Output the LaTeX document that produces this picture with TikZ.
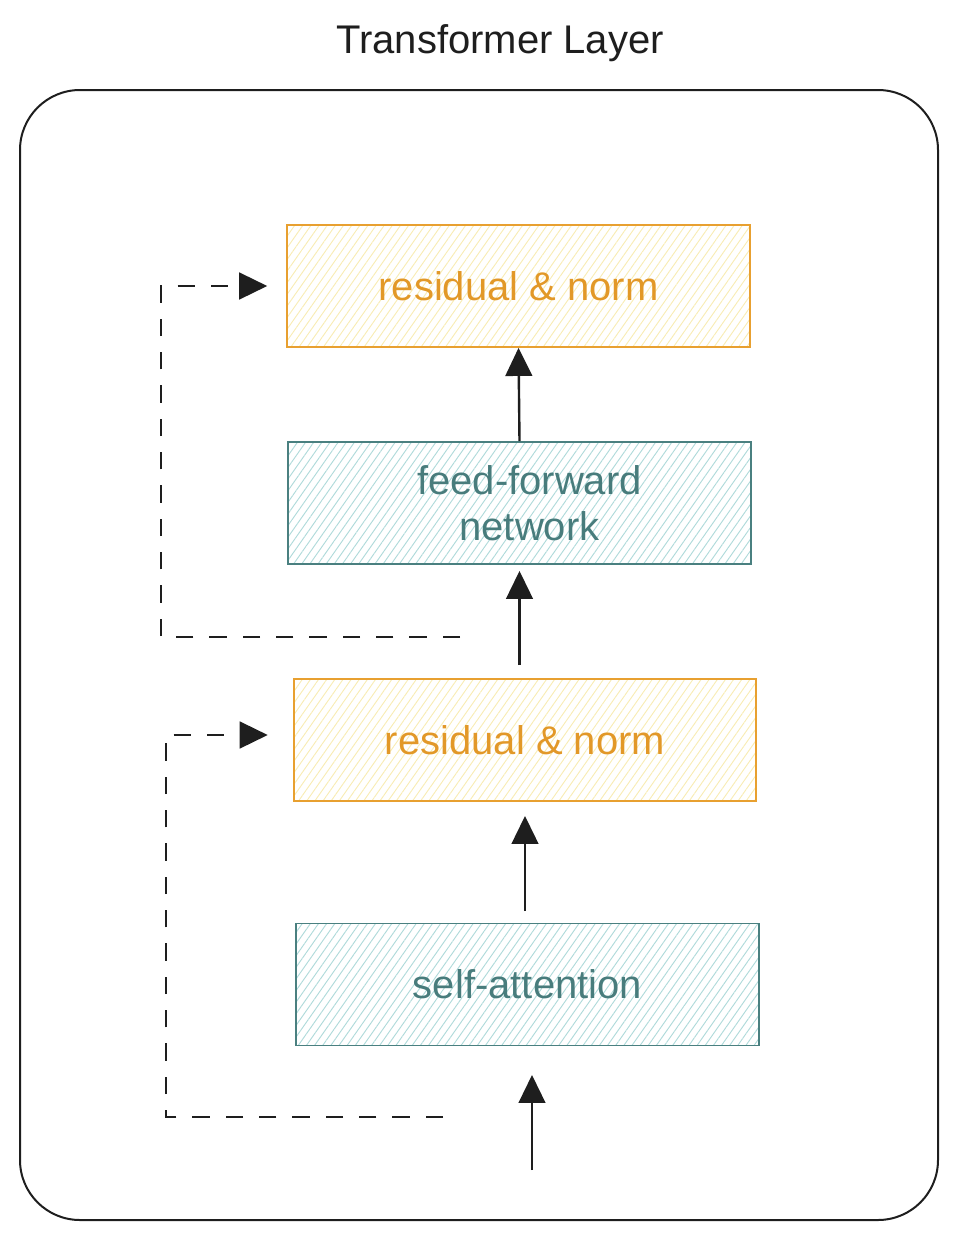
\documentclass[tikz,border=0pt]{standalone}
\usepackage[RGB]{xcolor}
\usepackage{fontspec}
\setmainfont{Liberation Sans}
\usetikzlibrary{arrows.meta,patterns.meta}
\definecolor{ink}{RGB}{30,30,30}
\definecolor{normline}{RGB}{232,160,48}
\definecolor{normtext}{RGB}{226,152,40}
\definecolor{normhatch}{RGB}{248,236,180}
\definecolor{netline}{RGB}{74,128,128}
\definecolor{nettext}{RGB}{72,124,124}
\definecolor{nethatch}{RGB}{175,218,218}
\newcommand{\boxfont}{\fontsize{30}{34.5}\selectfont}
\tikzset{
  block/.style={draw, line width=1.4pt, minimum width=347pt, minimum height=91.5pt,
    align=center, font=\boxfont, inner sep=0pt,
    pattern={Lines[angle=55,distance=5pt,line width=0.7pt]}},
  normblock/.style={block, draw=normline, text=normtext, pattern color=normhatch},
  netblock/.style={block, draw=netline, text=nettext, pattern color=nethatch},
  flow/.style={draw=ink, line width=1.8pt, -{Triangle[length=21pt,width=20pt]}},
  skip/.style={draw=ink, line width=1.9pt, dash pattern=on 13pt off 12pt,
    -{Triangle[length=21pt,width=20pt]}}
}
\begin{document}
\begin{tikzpicture}[x=0.75pt,y=-0.75pt]
\useasboundingbox (0,0) rectangle (957,1239);
\node[text=ink, font=\boxfont] (title) at (500,43) {Transformer Layer};
\draw[ink, line width=1.5pt, rounded corners=45pt] (20,90) rectangle (938,1220);
% blocks, bottom to top
\node[netblock] (attn) at (527.5,984.5) {self-attention};
\node[normblock] (norm1) at (525,740) {residual \& norm};
\node[netblock] (ffn) at (519.5,503) {\hspace*{15pt}feed-forward\\\hspace*{15pt}network};
\node[normblock] (norm2) at (518.5,286) {residual \& norm};
% main flow
\coordinate (input) at (532,1170);
\draw[flow, shorten >=21.75pt] (input) -- (input |- attn.south);
\draw[flow, shorten <=9pt, shorten >=10.5pt] (attn.north -| norm1.south) -- (norm1.south);
\draw[flow, shorten <=9.75pt, shorten >=4.5pt] (ffn.south |- norm1.north) -- (ffn.south);
\draw[flow] (ffn.north) -- (norm2.south);
% residual connections
\coordinate (skip1) at (443,1117);
\coordinate (skip2) at (460,637);
\draw[skip] (skip1) -- ++(-277,0) |- ([xshift=-18.75pt,yshift=3.75pt]norm1.west);
\draw[skip] (skip2) -- ++(-299,0) |- ([xshift=-14.25pt]norm2.west);
\end{tikzpicture}
\end{document}
